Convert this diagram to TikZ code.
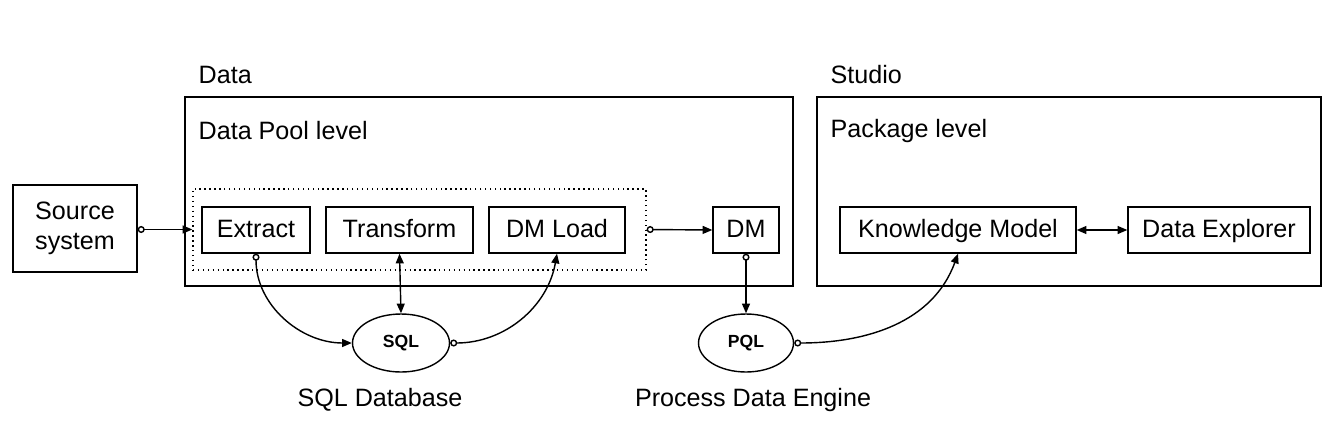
\documentclass[tikz,border=0pt]{standalone}
\usepackage{fontspec}
\setmainfont{Liberation Sans}
\usetikzlibrary{arrows.meta,shapes.geometric}

\begin{document}
\begin{tikzpicture}[
    x=0.02cm, y=-0.02cm,
    line width=0.8pt,
    every node/.style={font=\fontsize{14.3}{17}\selectfont},
    block/.style={draw, rectangle, minimum height=0.92cm, inner sep=0pt,
      text height=1.05em, text depth=0.15em},
    frame/.style={draw, rectangle, minimum height=3.78cm, inner sep=0pt},
    engine/.style={draw, ellipse, minimum height=1.16cm, inner sep=0pt,
      font=\fontsize{10}{12}\selectfont\bfseries},
    label/.style={anchor=west, inner sep=0pt},
    flow/.style={-{Triangle[length=5.5pt,width=4.5pt]}},
    oflow/.style={{Circle[open,length=4pt,width=4pt]}-{Triangle[length=5.5pt,width=4.5pt]}},
    both/.style={{Triangle[length=5.5pt,width=4.5pt]}-{Triangle[length=5.5pt,width=4.5pt]}}
  ]

    \useasboundingbox (0,0) rectangle (1334,436);

    % Source
    \node[draw, rectangle, minimum width=2.48cm, minimum height=1.74cm, align=left]
      (src) at (75,228.5) {Source\\system};

    % Data side
    \node[frame, minimum width=12.16cm] (data) at (489,191.5) {};
    \node[label] (datatitle) at (198,75) {Data};
    \node[label] (poollevel) at (198,131) {Data Pool level};
    \node[draw, dotted, rectangle, minimum width=9.06cm, minimum height=1.62cm, inner sep=0pt]
      (pool) at (419.5,229.5) {};
    \node[block, minimum width=2.16cm] (extract) at (256,230) {Extract};
    \node[block, minimum width=2.94cm] (transform) at (399.5,230) {Transform};
    \node[block, minimum width=2.72cm] (dmload) at (557,230) {DM Load};
    \node[block, minimum width=1.32cm] (dm) at (746,230) {DM};

    % Studio side
    \node[frame, minimum width=10.08cm] (studio) at (1069,191.5) {};
    \node[label] (studiotitle) at (830,75) {Studio};
    \node[label] (pkglevel) at (830,131) {Package level};
    \node[block, minimum width=4.72cm] (km) at (958,230) {Knowledge Model};
    \node[block, minimum width=3.64cm] (explorer) at (1219,230) {Data Explorer};

    % Engines
    \node[engine, minimum width=1.94cm] (sql) at (401,343) {SQL};
    \node (sqlname) at (380,400) {SQL Database};
    \node[engine, minimum width=1.9cm] (pql) at (746,343) {PQL};
    \node (pqlname) at (753,400) {Process Data Engine};

    % Connectors
    \draw[oflow] (src.east |- pool.west) -- (pool.west);
    \draw[oflow] (pool.east) -- (dm.west);
    \draw[both] (km.east) -- (explorer.west);
    \draw[oflow] (extract.south) to[out=-90, in=180] (sql.west);
    \draw[both] (transform.south) -- (sql.north);
    \draw[oflow] (sql.east) to[out=0, in=-100] (dmload.south);
    \draw[oflow] (dm.south) -- (pql.north);
    \draw[oflow] (pql.east) to[out=0, in=-110] (km.south);

  \end{tikzpicture}
\end{document}
